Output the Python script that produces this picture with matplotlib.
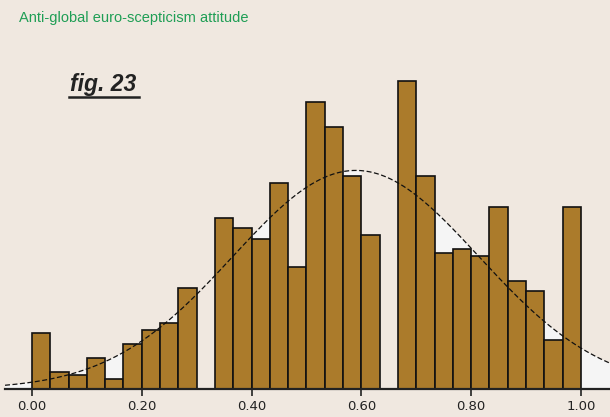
import numpy as np
import matplotlib.pyplot as plt

# histogram of the attitude score, 30 equal bins on [0, 1]
bin_edges = np.linspace(0.0, 1.0, 31)
counts = [16, 5, 4, 9, 3, 13, 17, 19, 29, 0,
          49, 46, 43, 59, 35, 82, 75, 61, 44, 0,
          88, 61, 39, 40, 38, 52, 31, 28, 14, 52]

# fitted normal curve
mu = 0.59
sigma = 0.224

tick_values = [0.0, 0.2, 0.4, 0.6, 0.8, 1.0]
tick_labels = ["0.00", "0.20", "0.40", "0.60", "0.80", "1.00"]

title = "Anti-global euro-scepticism attitude"
fig_label = "fig. 23"

bg = "#f0e8e0"
bar_color = "#ab7b2b"

fig = plt.figure(figsize=(6.10, 4.17), dpi=100, facecolor=bg)
ax = fig.add_axes([5 / 610, 28 / 417, 605 / 610, 389 / 417])
ax.set_facecolor(bg)

counts = np.array(counts, dtype=float)
width = np.diff(bin_edges)
n = counts.sum()

xs = np.linspace(-0.049, 1.053, 1200)
curve = n * width[0] / (sigma * np.sqrt(2 * np.pi)) * np.exp(-(xs - mu) ** 2 / (2 * sigma ** 2))

# light shading in the tails and where the curve rises just above the bars
idx = np.clip(np.searchsorted(bin_edges, xs, side="right") - 1, 0, len(counts) - 1)
inside = (xs >= 0) & (xs <= 1)
step = np.where(inside, counts[idx], 0.0)
mask = (~inside) | ((step > 0) & (curve - step < 13))
ax.fill_between(xs, step, curve, where=(curve > step) & mask, color="#f5f5f5",
                linewidth=0, zorder=1)

ax.bar(bin_edges[:-1], counts, width=width, align="edge", color=bar_color,
       edgecolor="#111111", linewidth=1.2, zorder=2)
ax.plot(xs, curve, color="#111111", linewidth=0.9, linestyle=(0, (4, 2)), zorder=3)

ax.set_xlim(-0.049, 1.053)
ax.set_ylim(0, 389 / 3.5)
for side in ["top", "right", "left"]:
    ax.spines[side].set_visible(False)
ax.spines["bottom"].set_linewidth(1.6)
ax.spines["bottom"].set_color("#222222")
ax.set_yticks([])
ax.set_xticks(tick_values)
ax.set_xticklabels(tick_labels)
ax.tick_params(axis="x", direction="out", length=5, width=1.2, color="#222222",
               labelsize=9.5, labelcolor="#222222", pad=3)

fig.text(19 / 610, 1 - 18 / 417, title, color="#1f9e55", fontsize=10.5,
         family="Liberation Sans", va="center", ha="left")
fig.text(70 / 610, 1 - 85 / 417, fig_label, color="#222222", fontsize=16.5,
         family="Liberation Sans", weight="bold", style="italic",
         va="center", ha="left")
fig.add_artist(plt.Line2D([69 / 610, 139 / 610], [1 - 97 / 417, 1 - 97 / 417],
                          color="#222222", linewidth=1.8))

fig.savefig("out.png", dpi=100, facecolor=bg)
